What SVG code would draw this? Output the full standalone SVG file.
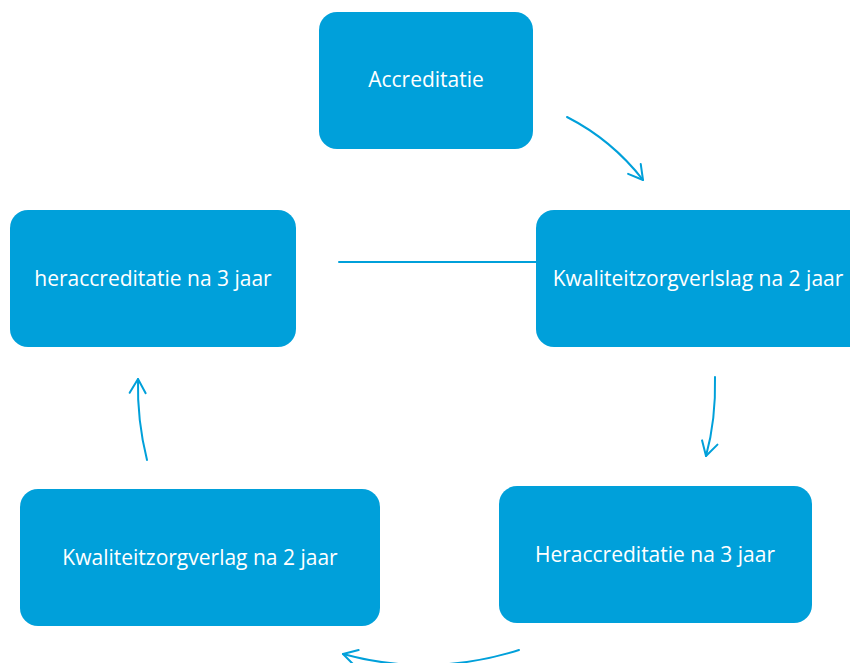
<svg xmlns="http://www.w3.org/2000/svg" width="850" height="663" viewBox="0 0 850 663">
<style>
.box{fill:#00A0DA}
.lbl{fill:#ffffff;font-family:"Open Sans","Liberation Sans",sans-serif;font-size:21px;text-anchor:middle;dominant-baseline:central}
.con{fill:none;stroke:#00A0DA;stroke-width:2;stroke-linecap:round;stroke-linejoin:round}
</style>
<defs>
<marker id="ah" viewBox="0 0 20 20" refX="18" refY="10" markerWidth="20" markerHeight="20" markerUnits="userSpaceOnUse" orient="auto">
<path d="M4,2 L18,10 L4,18" fill="none" stroke="#00A0DA" stroke-width="2" stroke-linecap="round" stroke-linejoin="round"/>
</marker>
</defs>
<rect width="850" height="663" fill="#ffffff"/>
<g id="connectors">
<path class="con" d="M567,117 Q612,140 643,180" marker-end="url(#ah)"/>
<path class="con" d="M715,377 Q716,420 706,456" marker-end="url(#ah)"/>
<path class="con" d="M519,650 Q430,678 343,654" marker-end="url(#ah)"/>
<path class="con" d="M147,460 Q137,420 138,379" marker-end="url(#ah)"/>
<path class="con" d="M339,262 L536,262"/>
</g>
<g id="accreditatie">
<rect class="box" x="319" y="12" width="214" height="137" rx="18"/>
<text class="lbl" x="426" y="79">Accreditatie</text>
</g>
<g id="heraccreditatie-1">
<rect class="box" x="10" y="210" width="286" height="137" rx="18"/>
<text class="lbl" x="153" y="278">heraccreditatie na 3 jaar</text>
</g>
<g id="kwaliteitzorgverlslag">
<rect class="box" x="536" y="210" width="330" height="137" rx="18"/>
<text class="lbl" x="698" y="278">Kwaliteitzorgverlslag na 2 jaar</text>
</g>
<g id="heraccreditatie-2">
<rect class="box" x="499" y="486" width="313" height="137" rx="18"/>
<text class="lbl" x="655" y="554">Heraccreditatie na 3 jaar</text>
</g>
<g id="kwaliteitzorgverlag">
<rect class="box" x="20" y="489" width="360" height="137" rx="18"/>
<text class="lbl" x="200" y="557">Kwaliteitzorgverlag na 2 jaar</text>
</g>
</svg>
